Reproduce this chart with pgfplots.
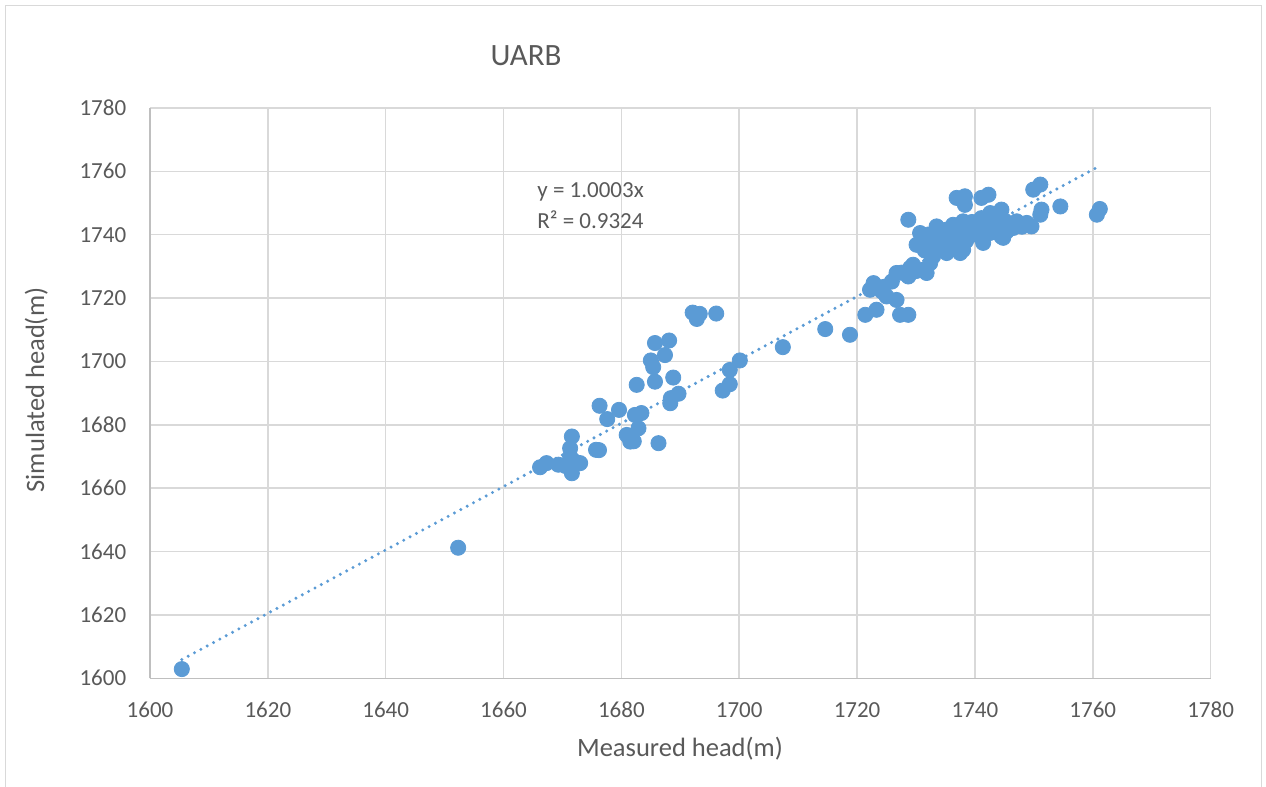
\documentclass[border=0pt]{standalone}
\usepackage{pgfplots}
\pgfplotsset{compat=1.18}
\usepackage{pgfplotstable}
\usepackage{fontspec}
\setmainfont{Carlito}
\definecolor{pt}{HTML}{5B9BD5}
\definecolor{txt}{HTML}{595959}
\definecolor{grd}{HTML}{D9D9D9}
\definecolor{axl}{HTML}{BFBFBF}
\pgfplotstableread{
x y
1605.4 1602.9
1652.3 1641.2
1666.2 1666.6
1667.3 1667.9
1669.3 1667.4
1670.5 1667.0
1671.3 1670.0
1671.6 1676.3
1671.3 1672.6
1672.1 1668.4
1671.6 1664.7
1673.0 1667.9
1675.7 1672.1
1676.2 1672.0
1676.3 1686.0
1677.6 1681.8
1679.6 1684.7
1680.9 1676.8
1681.5 1674.7
1682.1 1674.8
1682.3 1683.1
1683.4 1683.7
1682.9 1678.9
1686.3 1674.2
1682.6 1692.6
1685.7 1693.6
1685.0 1700.3
1685.4 1698.2
1685.7 1705.8
1688.1 1706.6
1687.4 1702.0
1688.8 1694.9
1689.7 1689.8
1688.4 1688.4
1688.3 1686.8
1692.1 1715.4
1693.3 1715.0
1692.8 1713.4
1696.1 1715.1
1697.2 1690.8
1698.4 1692.8
1698.4 1697.3
1700.1 1700.3
1707.4 1704.5
1714.6 1710.2
1718.8 1708.4
1721.4 1714.7
1723.3 1716.3
1722.2 1722.6
1722.8 1724.7
1724.2 1722.1
1725.0 1720.5
1726.7 1719.4
1725.9 1725.2
1726.7 1727.9
1727.3 1714.7
1728.7 1714.7
1728.7 1726.8
1729.5 1730.5
1728.7 1744.7
1730.1 1736.8
1730.7 1740.5
1731.2 1728.9
1731.8 1727.9
1732.4 1731.0
1732.9 1733.1
1732.4 1738.4
1733.5 1742.6
1734.1 1738.9
1735.2 1734.2
1735.8 1740.0
1736.3 1743.1
1737.5 1736.3
1738.0 1744.2
1739.7 1740.0
1738.0 1735.2
1737.5 1734.2
1738.6 1740.5
1736.9 1751.6
1738.3 1752.1
1738.3 1749.4
1741.1 1751.6
1742.3 1752.6
1741.1 1745.2
1742.6 1746.8
1744.5 1747.9
1747.1 1744.2
1748.8 1743.7
1749.6 1742.6
1745.4 1741.0
1744.5 1739.4
1744.8 1739.0
1741.4 1738.4
1741.4 1737.4
1746.5 1742.1
1749.9 1754.2
1751.1 1755.8
1751.3 1747.9
1751.1 1746.3
1754.5 1748.9
1761.2 1748.1
1760.7 1746.3
1733.0 1736.0
1734.5 1737.0
1736.0 1738.0
1737.0 1741.5
1739.0 1742.5
1740.0 1741.0
1740.5 1743.0
1743.0 1742.0
1743.5 1744.5
1735.0 1741.5
1731.5 1735.0
1733.8 1740.0
1736.5 1736.0
1742.5 1740.5
1746.0 1743.5
1748.0 1742.5
1730.0 1728.5
1727.5 1728.0
1734.0 1735.5
1735.5 1737.5
1737.0 1739.0
1738.5 1738.0
1739.5 1744.0
1741.5 1743.0
1742.0 1741.5
1744.0 1741.0
1745.0 1744.5
1731.0 1737.5
1732.0 1740.0
1733.0 1738.5
1729.0 1729.5
1724.5 1723.5
}\pts
\begin{document}
\begin{tikzpicture}[x=0.5pt,y=0.5pt]
\useasboundingbox (0,0) rectangle (1266,787);
\draw[grd, line width=0.75pt] (5.5,0) -- (5.5,781.5) -- (1261.5,781.5) -- (1261.5,0);
\begin{axis}[at={(75pt,54.35pt)}, anchor=south west, scale only axis,
  width=530.3pt, height=285.2pt,
  xmin=1600, xmax=1780, ymin=1600, ymax=1780,
  xtick={1600,1620,...,1780}, ytick={1600,1620,...,1780},
  grid=major, major grid style={grd, line width=0.75pt},
  axis x line=bottom, axis y line=left,
  axis line style={axl, line width=0.75pt, -},
  major tick length=0pt,
  tick label style={font=\fontsize{11.5}{13}\selectfont, text=txt, inner sep=0pt},
  xticklabel style={anchor=north, yshift=-11.7pt},
  yticklabel style={anchor=east, xshift=-11.7pt},
  /pgf/number format/assume math mode=true,
  /pgf/number format/1000 sep={},
  clip=false]
\addplot[only marks, mark=*, mark size=3.8pt, color=pt, mark options={fill=pt, draw=pt}] table {\pts};
\addplot[pt, line width=1.7pt, line cap=round, dash pattern=on 0pt off 3.6pt] coordinates {(1605.4,1605.9) (1761.2,1761.7)};
\end{axis}
\node[anchor=base, text=txt, font=\fontsize{15.5}{18}\selectfont, inner sep=0pt] at (526,721) {UARB};
\node[anchor=base, text=txt, font=\fontsize{13.25}{16}\selectfont, inner sep=0pt] at (680,30) {Measured head(m)};
\node[anchor=base, rotate=90, text=txt, font=\fontsize{13.25}{16}\selectfont, inner sep=0pt] at (44,397) {Simulated head(m)};
\node[anchor=base west, text=txt, font=\fontsize{11.5}{14}\selectfont, inner sep=0pt] at (537,589) {y = 1.0003x};
\node[anchor=base west, text=txt, font=\fontsize{11.5}{14}\selectfont, inner sep=0pt] at (537,558) {R² = 0.9324};
\end{tikzpicture}
\end{document}
